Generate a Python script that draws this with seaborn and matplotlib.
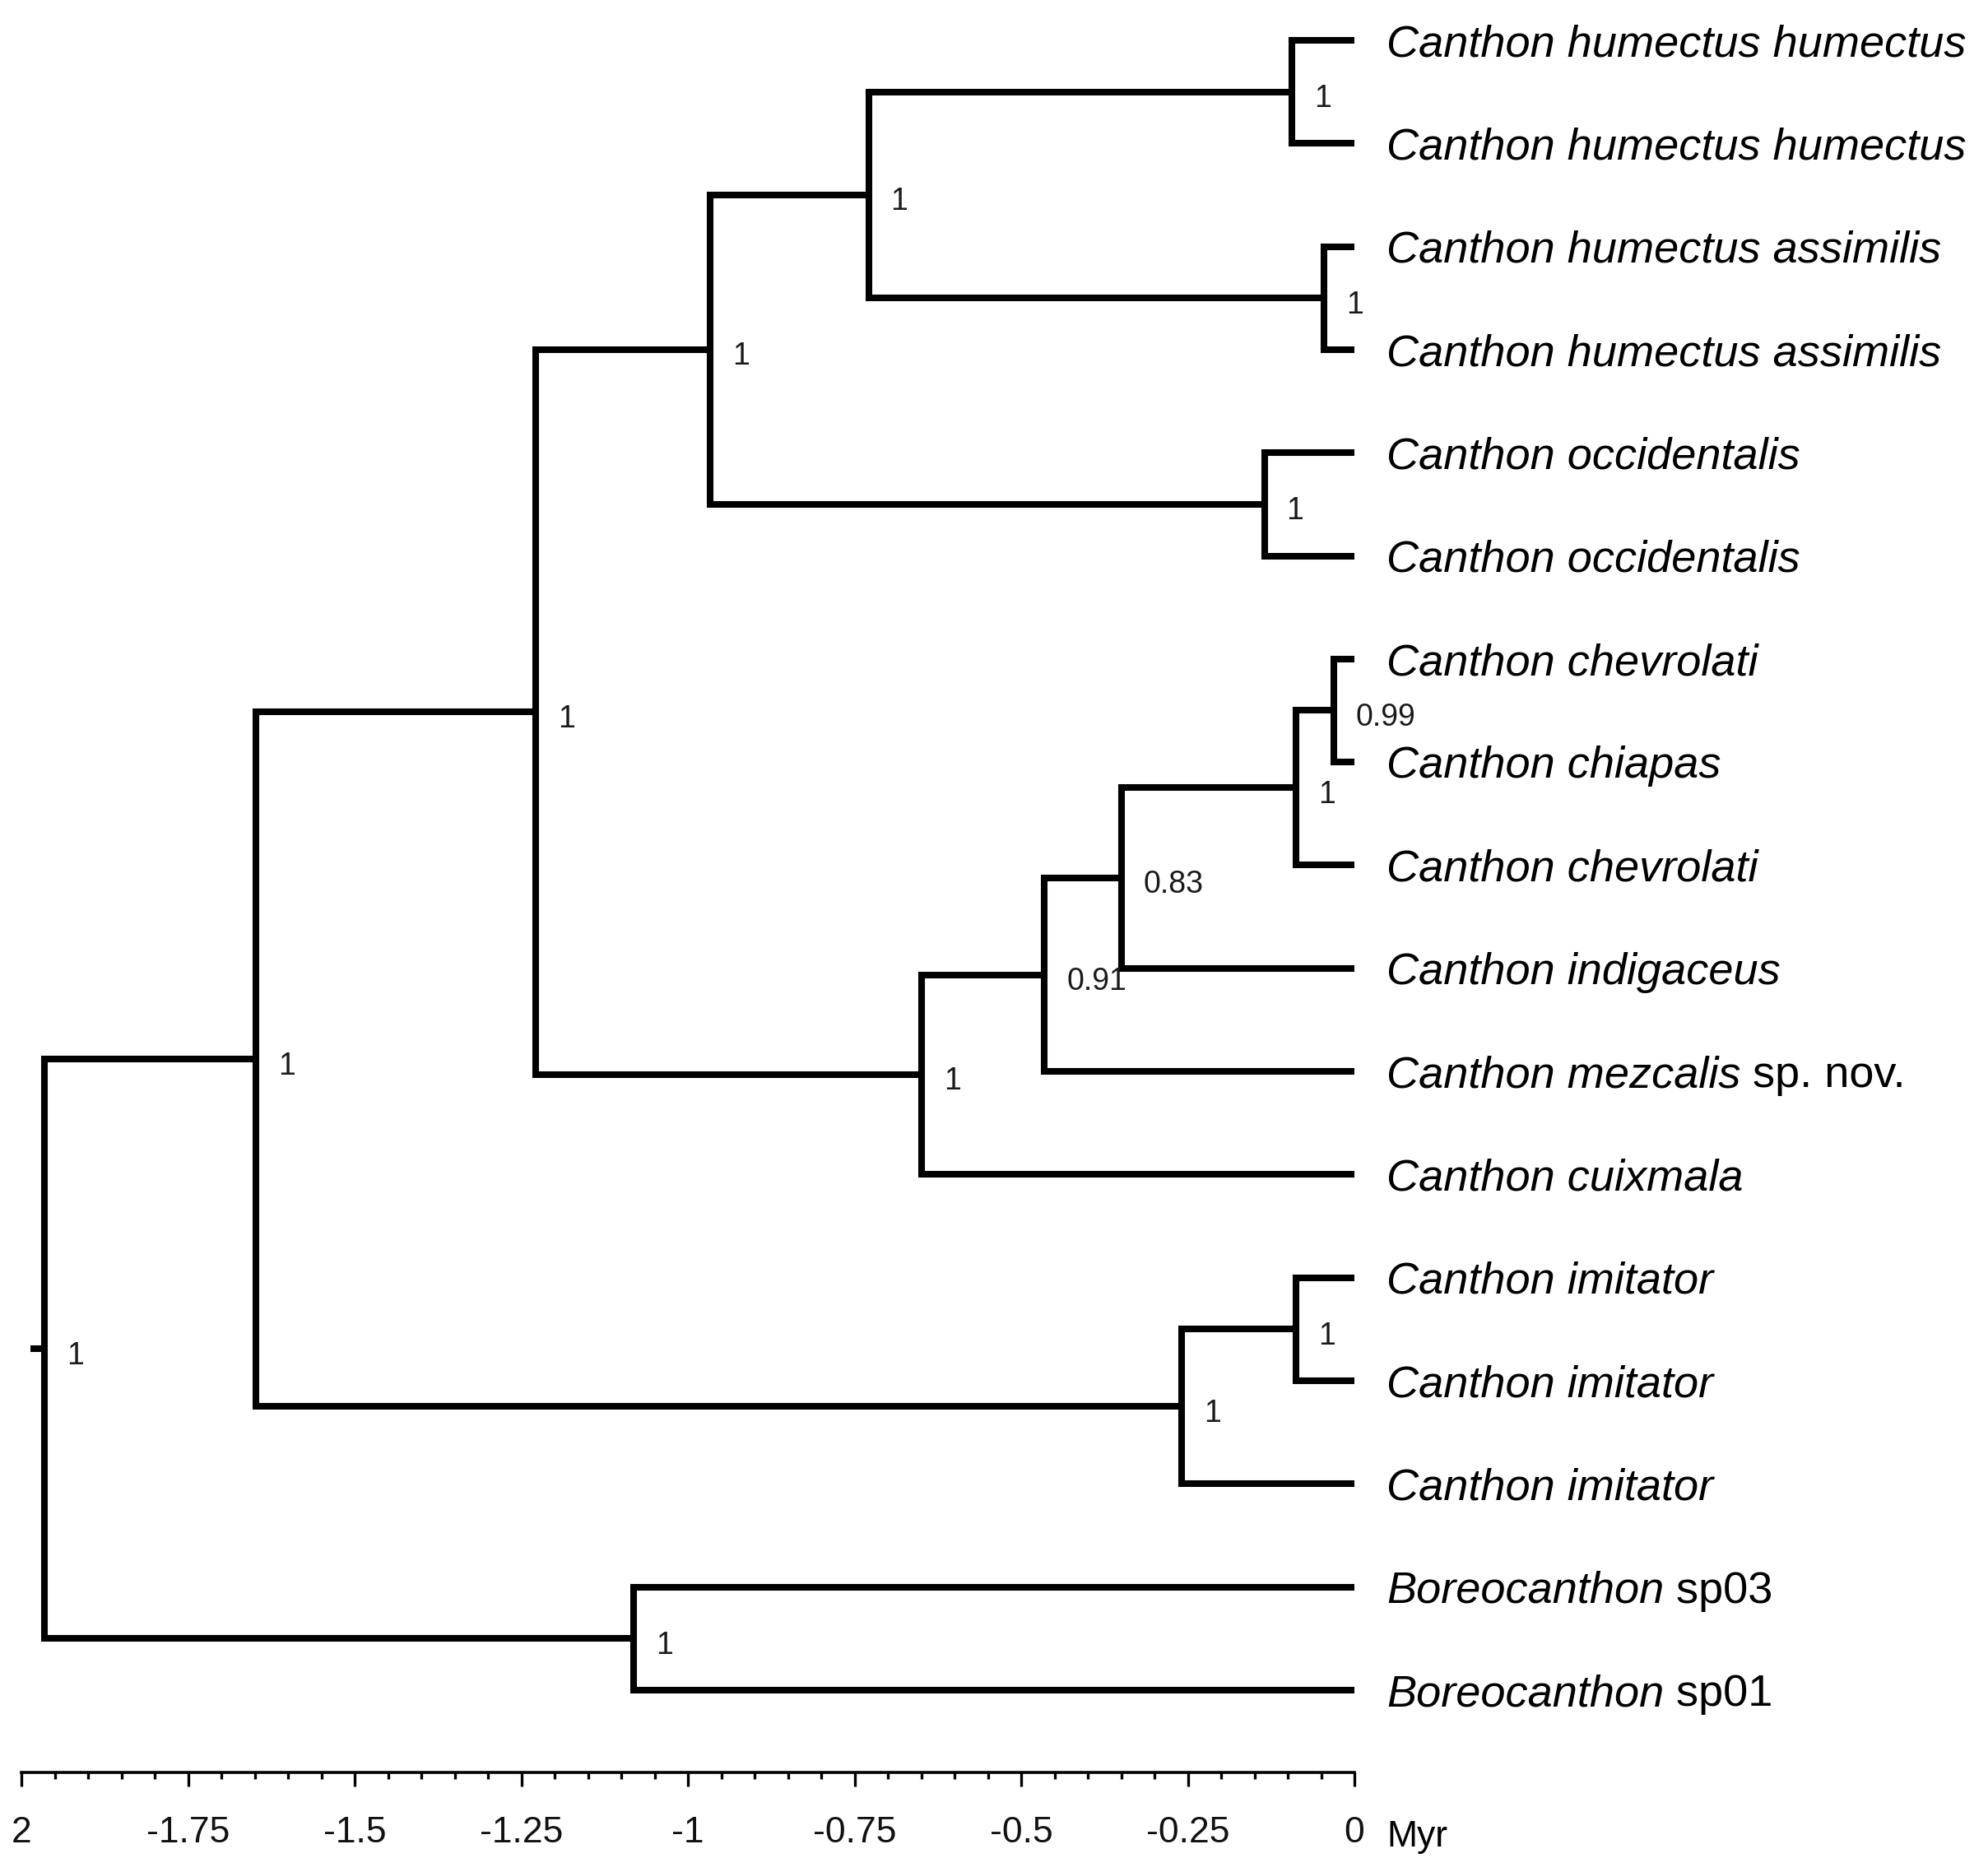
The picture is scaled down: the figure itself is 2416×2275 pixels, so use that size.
import matplotlib
matplotlib.use("Agg")
import matplotlib.pyplot as plt
import seaborn as sns
import numpy as np
import pandas as pd
from matplotlib.ticker import FixedLocator, FixedFormatter

# ---------------- data ----------------
tip_italic = [
    "Canthon humectus humectus", "Canthon humectus humectus",
    "Canthon humectus assimilis", "Canthon humectus assimilis",
    "Canthon occidentalis", "Canthon occidentalis",
    "Canthon chevrolati", "Canthon chiapas", "Canthon chevrolati",
    "Canthon indigaceus", "Canthon mezcalis", "Canthon cuixmala",
    "Canthon imitator", "Canthon imitator", "Canthon imitator",
    "Boreocanthon", "Boreocanthon",
]
tip_suffix = ["", "", "", "", "", "", "", "", "", "", " sp. nov.", "",
              "", "", "", " sp03", " sp01"]

node_names = ["hh", "ha", "hum", "occ", "humocc", "chch", "chev", "ind",
              "mez", "cuix", "big", "imi2", "imi", "canth", "boreo", "root"]
node_times = [-0.0935, -0.046, -0.729, -0.135, -0.967, -0.031, -0.088, -0.350,
              -0.465, -0.649, -1.228, -0.088, -0.259, -1.648, -1.081, -1.965]
node_children = [
    ["t0", "t1"], ["t2", "t3"], ["hh", "ha"], ["t4", "t5"], ["hum", "occ"],
    ["t6", "t7"], ["chch", "t8"], ["chev", "t9"], ["ind", "t10"],
    ["mez", "t11"], ["humocc", "cuix"], ["t12", "t13"], ["imi2", "t14"],
    ["big", "imi"], ["t15", "t16"], ["canth", "boreo"],
]
node_support = ["1", "1", "1", "1", "1", "0.99", "1", "0.83", "0.91", "1",
                "1", "1", "1", "1", "1", "1"]
root_stub_start = -1.986

tick_values = [-2, -1.75, -1.5, -1.25, -1, -0.75, -0.5, -0.25, 0]
tick_labels = ["2", "-1.75", "-1.5", "-1.25", "-1", "-0.75", "-0.5", "-0.25", "0"]
minor_step = 0.05
axis_unit = "Myr"

# ---------------- layout of tree ----------------
pos = {}
for i in range(len(tip_italic)):
    pos["t%d" % i] = (0.0, float(i))
node_x = dict(zip(node_names, node_times))
node_kids = dict(zip(node_names, node_children))


def get_pos(name):
    if name in pos:
        return pos[name]
    ys = [get_pos(c)[1] for c in node_kids[name]]
    pos[name] = (node_x[name], (ys[0] + ys[-1]) / 2.0)
    return pos[name]


for n in node_names:
    get_pos(n)

rows = []
seg = 0
for n in node_names:
    nx, ny = pos[n]
    for c in node_kids[n]:
        cx, cy = pos[c]
        for (x, y) in [(nx, ny), (nx, cy), (cx, cy)]:
            rows.append({"x": x, "y": y, "seg": seg})
        seg += 1
rx, ry = pos["root"]
for x in [root_stub_start, rx]:
    rows.append({"x": x, "y": ry, "seg": seg})
df = pd.DataFrame(rows)

# ---------------- figure ----------------
sns.set_theme(style="white")
plt.rcParams["font.family"] = ["Liberation Sans", "DejaVu Sans"]

W, H, DPI = 2416, 2275, 100
fig = plt.figure(figsize=(W / DPI, H / DPI), dpi=DPI)
ax = fig.add_axes([0, 0, 1, 1])

sns.lineplot(data=df, x="x", y="y", units="seg", estimator=None, sort=False,
             color="black", linewidth=5.8, ax=ax, legend=False,
             solid_joinstyle="miter", solid_capstyle="butt")

ax.set_xlim(-2.0321, 0.9506)
ax.set_ylim(17.765, -0.391)
ax.set_xlabel("")
ax.set_ylabel("")

# tip labels
for i, (it, sfx) in enumerate(zip(tip_italic, tip_suffix)):
    t = ax.annotate(it, xy=(0, i), xytext=(28, -13.9), textcoords="offset points",
                    ha="left", va="baseline", fontsize=39, fontstyle="italic",
                    color="black", annotation_clip=False)
    if sfx:
        ax.annotate(sfx, xy=(1, 0), xycoords=t, ha="left", va="bottom",
                    fontsize=39, color="black", annotation_clip=False)

# support values
for n, s in zip(node_names, node_support):
    x, y = pos[n]
    ax.annotate(s, xy=(x, y), xytext=(19.4, -13.2), textcoords="offset points",
                ha="left", va="baseline", fontsize=27, color="#1a1a1a",
                annotation_clip=False)

# time axis
for side in ["top", "right", "left"]:
    ax.spines[side].set_visible(False)
ax.spines["bottom"].set_position(("data", 16.80))
ax.spines["bottom"].set_bounds(tick_values[0], tick_values[-1])
ax.spines["bottom"].set_linewidth(2.6)
ax.spines["bottom"].set_color("black")
minor_ticks = np.round(np.arange(tick_values[0], tick_values[-1] + 1e-9, minor_step), 4)
ax.xaxis.set_major_locator(FixedLocator(tick_values))
ax.xaxis.set_major_formatter(FixedFormatter(tick_labels))
ax.xaxis.set_minor_locator(FixedLocator(minor_ticks))
ax.tick_params(axis="x", which="major", direction="out", length=12.2, width=2.4,
               color="black", labelsize=32, pad=26, labelcolor="#111111",
               bottom=True)
ax.tick_params(axis="x", which="minor", direction="out", length=5.8, width=2.4,
               color="black", bottom=True)
ax.tick_params(axis="y", left=False, labelleft=False)
ax.annotate(axis_unit, xy=(0, 16.80), xytext=(28, -64.8), textcoords="offset points",
            ha="left", va="baseline", fontsize=32, color="black",
            annotation_clip=False)

fig.savefig("out.png", dpi=DPI, facecolor="white")
